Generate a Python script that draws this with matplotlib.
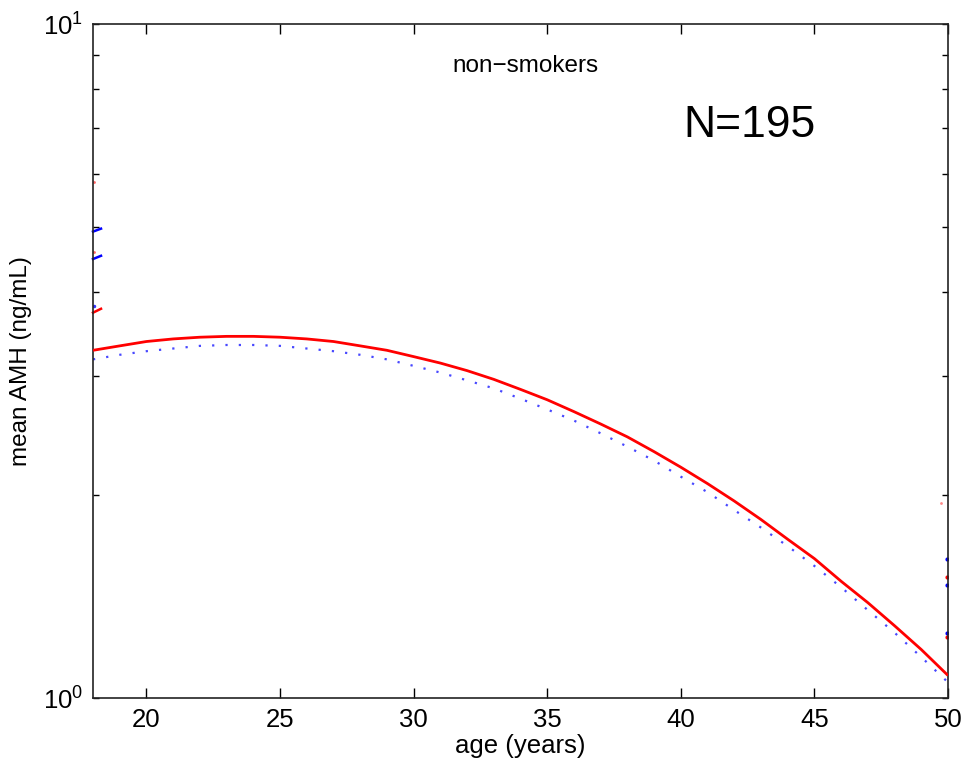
import matplotlib
matplotlib.use("Agg")
import matplotlib.pyplot as plt
from matplotlib.ticker import LogLocator, FixedLocator, NullFormatter

plt.rcParams['font.family'] = ['Liberation Sans', 'DejaVu Sans']
plt.rcParams['mathtext.fontset'] = 'custom'
plt.rcParams['mathtext.rm'] = 'Liberation Sans'
plt.rcParams['mathtext.it'] = 'Liberation Sans'

# ---- data ----
ages = list(range(18, 51))
amh_red = [3.28, 3.33, 3.38, 3.41, 3.43, 3.44, 3.44, 3.43, 3.41, 3.38, 3.33,
           3.28, 3.21, 3.14, 3.06, 2.97, 2.87, 2.77, 2.66, 2.55, 2.44, 2.32,
           2.20, 2.08, 1.96, 1.84, 1.72, 1.61, 1.49, 1.385, 1.28, 1.18, 1.08]
amh_blue = [3.18, 3.23, 3.27, 3.30, 3.33, 3.34, 3.34, 3.33, 3.30, 3.27, 3.23,
            3.18, 3.11, 3.04, 2.96, 2.88, 2.78, 2.68, 2.58, 2.47, 2.36, 2.25,
            2.13, 2.02, 1.90, 1.79, 1.68, 1.57, 1.46, 1.35, 1.25, 1.15, 1.055]

# short marks visible at the plot edges
left_seg_ages = [18.0, 18.3]
left_blue_segs = [[4.92, 4.97], [4.48, 4.53]]
left_red_segs = [[3.73, 3.78]]
left_dot_age = 18.02
left_red_dots = [5.83, 4.59]
left_blue_dots = [3.82]
right_dot_age = 49.95
right_blue_dots = [1.61, 1.47, 1.25]
right_red_dots = [1.51, 1.23]
right_faint_age = 49.75
right_faint_red = [1.95]

xticks = [20, 25, 30, 35, 40, 45, 50]

fig = plt.figure(figsize=(9.62, 7.66), dpi=100)
ax = fig.add_axes([93/962, 1-698/766, (948-93)/962, (698-24)/766])

ax.plot(ages, amh_red, color='#ff0000', lw=2.0, solid_capstyle='butt', zorder=3)
ax.plot(ages, amh_blue, color='#1a1aff', lw=1.6, linestyle=(0, (1, 5)), alpha=0.8, zorder=2)

for seg in left_blue_segs:
    ax.plot(left_seg_ages, seg, color='#0000ff', lw=1.8, clip_on=False)
for seg in left_red_segs:
    ax.plot(left_seg_ages, seg, color='#ff0000', lw=1.8, clip_on=False)
ax.plot([left_dot_age]*len(left_red_dots), left_red_dots, ls='none', marker='o', ms=2, color='#ff6666', mew=0)
ax.plot([left_dot_age]*len(left_blue_dots), left_blue_dots, ls='none', marker='o', ms=2.5, color='#3333ff', mew=0)
ax.plot([right_dot_age]*len(right_blue_dots), right_blue_dots, ls='none', marker='o', ms=3, color='#0000ff', mew=0)
ax.plot([right_dot_age]*len(right_red_dots), right_red_dots, ls='none', marker='o', ms=3, color='#ff0000', mew=0)
ax.plot([right_faint_age]*len(right_faint_red), right_faint_red, ls='none', marker='o', ms=2, color='#ff8888', mew=0)

ax.set_yscale('log')
ax.set_xlim(18, 50)
ax.set_ylim(1, 10)
ax.set_xticks(xticks)
ax.yaxis.set_major_locator(FixedLocator([1, 10]))
ax.yaxis.set_minor_locator(LogLocator(base=10, subs=range(2, 10)))
ax.yaxis.set_minor_formatter(NullFormatter())
ax.set_yticklabels([r'$10^{0}$', r'$10^{1}$'])

ax.tick_params(which='both', direction='in', top=True, right=True, labelsize=18.5, pad=7, width=1.0, color='black')
ax.tick_params(axis='x', which='major', length=7)
ax.tick_params(axis='y', which='major', length=4)
ax.tick_params(axis='y', which='minor', length=4)
for s in ax.spines.values():
    s.set_linewidth(1.2)
    s.set_color('#222222')

ax.set_xlabel('age (years)', fontsize=18.5, labelpad=2)
ax.set_ylabel('mean AMH (ng/mL)', fontsize=17.5, labelpad=8)

ax.text(0.506, 0.929, 'non\u2212smokers', transform=ax.transAxes, ha='center', va='baseline', fontsize=17.5)
ax.text(0.768, 0.832, 'N=195', transform=ax.transAxes, ha='center', va='baseline', fontsize=32)

fig.savefig('out.png', dpi=100)
